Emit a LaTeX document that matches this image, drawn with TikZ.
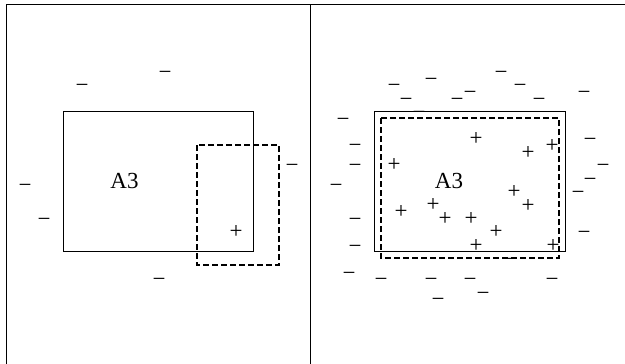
\documentclass[tikz,border=0pt]{standalone}
\usepackage{fontspec}
\setmainfont{Liberation Serif}
\begin{document}
\begin{tikzpicture}[x=1pt,y=-1pt,
  sym/.style={inner sep=0pt,anchor=base,yshift=-8.6pt,font=\fontsize{23}{23}\selectfont},
  lbl/.style={inner sep=0pt,font=\fontsize{23}{23}\selectfont},
  frameline/.style={line width=0.9pt},
  region/.style={line width=0.8pt},
  hyp/.style={line width=1.6pt,dash pattern=on 6pt off 3pt}]
\useasboundingbox (0,0) rectangle (625,364);
% frame
\coordinate (fbl) at (6,364);
\coordinate (ftl) at (6,4);
\coordinate (ftr) at (625,4);
\coordinate (dt) at (310,4);
\coordinate (db) at (310,364);
\draw[frameline] (fbl) -- (ftl) -- (ftr);
\draw[frameline] (dt) -- (db);
% left panel
\draw[region] (63,111) rectangle (253,251);
\draw[hyp] (197,145) rectangle (279,265);
\node[lbl] (a3l) at (124.5,181) {A3};
\node[sym] (lp1) at (236,230) {+};
\foreach \x/\y [count=\i] in {82/84,165/71,25/184,44/218,159/278,292/164}
  \node[sym] (lm\i) at (\x,\y) {−};
% right panel
\draw[region] (374,111) rectangle (565,251);
\draw[hyp] (381,118) rectangle (559,258);
\node[lbl] (a3r) at (449,181) {A3};
\foreach \x/\y [count=\i] in {476/137,528/151,552/144,394/163,514/190,528/204,401/210,433/203,445/217,471/217,496/230,476/244,553/244}
  \node[sym] (rp\i) at (\x,\y) {+};
\foreach \x/\y [count=\i] in {501/71,431/78,394/84,520/84,470/91,584/91,406/98,457/98,539/98,419/111,343/118,355/144,590/138,355/164,603/164,336/184,590/178,578/191,355/218,355/245,584/231,349/272,381/278,431/278,470/278,552/278,483/292,438/298,508/258}
  \node[sym] (rm\i) at (\x,\y) {−};
\end{tikzpicture}
\end{document}
